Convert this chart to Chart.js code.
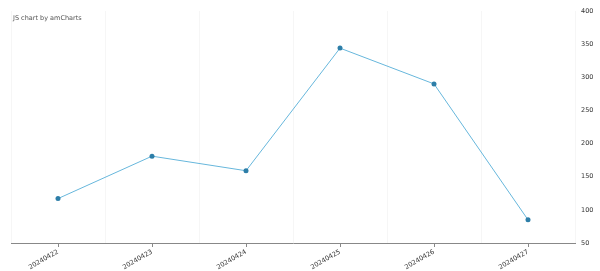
<!DOCTYPE html>
<html>
<head>
<meta charset="utf-8">
<script src="https://cdn.jsdelivr.net/npm/chart.js@4"></script>
<style>
  html, body { margin: 0; padding: 0; background: #fff; }
  #wrap { position: relative; width: 600px; height: 271px; }
  #credit {
    position: absolute; left: 13px; top: 14px;
    font: 6.5px "DejaVu Sans", Verdana, sans-serif; color: #555;
  }
</style>
</head>
<body>
<div id="wrap">
  <canvas id="grafico" width="600" height="271"></canvas>
  <div id="credit">JS chart by amCharts</div>
</div>
<script>
// dados
const datas = ['20240422', '20240423', '20240424', '20240425', '20240426', '20240427'];
const valores = [117, 181, 159, 344, 290, 85];
const eixoMin = 50, eixoMax = 400, passo = 50;

const fonte = { family: 'DejaVu Sans', size: 6.5 };

const ctx = document.getElementById('grafico').getContext('2d');
new Chart(ctx, {
    type: 'line',
    data: {
        labels: datas,
        datasets: [{
            data: valores,
            borderColor: '#67b7dc',
            borderWidth: 1,
            tension: 0,
            pointRadius: 2.5,
            pointBackgroundColor: '#2d7ea8',
            pointBorderColor: '#2d7ea8',
            pointBorderWidth: 0,
            xAxisID: 'x',
            yAxisID: 'y'
        }]
    },
    options: {
        responsive: false,
        animation: false,
        layout: { padding: { left: 11, top: 11, right: 0, bottom: 0 } },
        plugins: { legend: { display: false }, tooltip: { enabled: false } },
        scales: {
            x: {
                offset: true,
                grid: { drawOnChartArea: false, tickLength: 4, tickColor: '#888', offset: false },
                border: { display: true, color: '#888', width: 1 },
                ticks: { font: fonte, color: '#333', maxRotation: 30, minRotation: 30, padding: 1 },
                afterFit: s => { s.height = 28; }
            },
            // eixo auxiliar só para as linhas de grade entre as categorias
            xGrade: {
                type: 'category',
                labels: datas,
                offset: true,
                position: 'bottom',
                grid: { offset: true, color: '#f6f6f6', drawTicks: false },
                border: { display: false },
                ticks: { display: false },
                afterFit: s => { s.height = 0; }
            },
            y: {
                position: 'right',
                min: eixoMin,
                max: eixoMax,
                ticks: { stepSize: passo, font: fonte, color: '#333', padding: 6 },
                grid: { display: false, drawTicks: false },
                border: { display: false },
                afterFit: s => { s.width = 25; }
            }
        }
    }
});
</script>
</body>
</html>
